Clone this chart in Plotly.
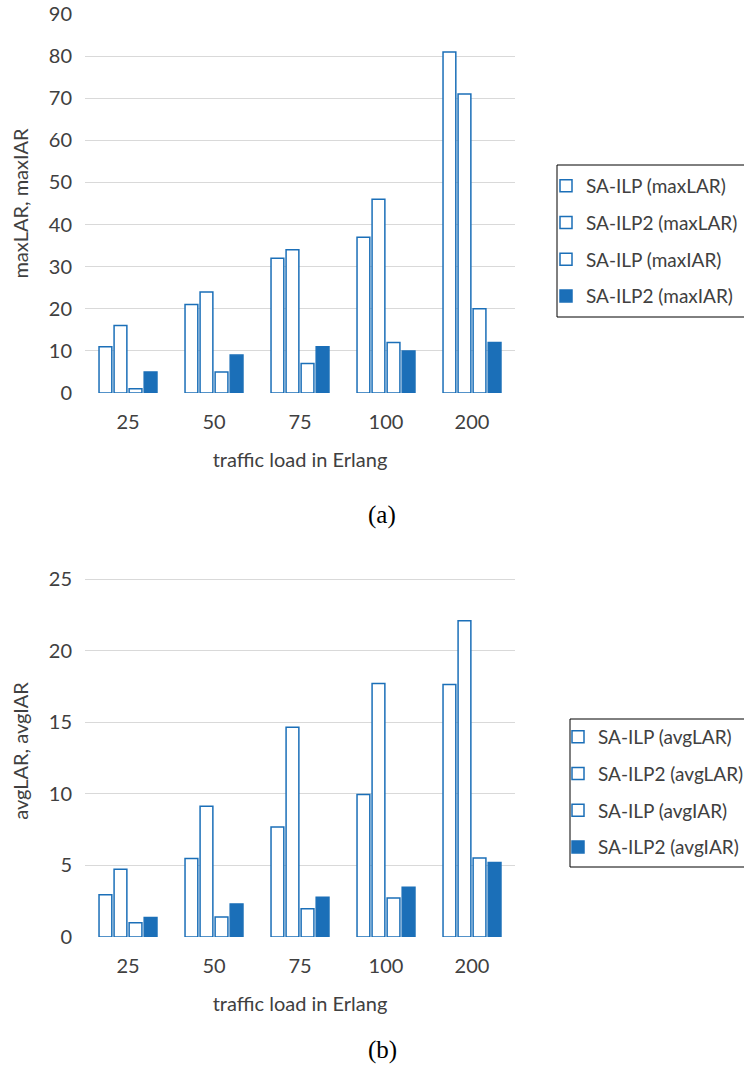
import plotly.graph_objects as go

W, H = 744, 1070

categories = ["25", "50", "75", "100", "200"]

# (a) max values
sailp_maxLAR = [11, 21, 32, 37, 81]
sailp2_maxLAR = [16, 24, 34, 46, 71]
sailp_maxIAR = [1, 5, 7, 12, 20]
sailp2_maxIAR = [5, 9, 11, 10, 12]

# (b) avg values
sailp_avgLAR = [2.95, 5.48, 7.69, 9.95, 17.64]
sailp2_avgLAR = [4.73, 9.13, 14.65, 17.71, 22.09]
sailp_avgIAR = [1.0, 1.40, 1.98, 2.73, 5.52]
sailp2_avgIAR = [1.37, 2.31, 2.77, 3.47, 5.20]

yticks_a = [0, 10, 20, 30, 40, 50, 60, 70, 80, 90]
yticks_b = [0, 5, 10, 15, 20, 25]

BLUE = "#1B6FB8"
GRID = "#D9D9D9"
FONT = "Lato"
TXT = "#404040"
FS = 20
LFS = 19


def px_x(p):
    return p / W


def px_y(p):
    return 1 - p / H


fig = go.Figure()


def add_bars(vals, name, filled, xa, ya, legend):
    fig.add_trace(go.Bar(
        x=categories, y=vals, name=name,
        marker=dict(color=BLUE if filled else "white",
                    line=dict(color=BLUE, width=1.5)),
        xaxis=xa, yaxis=ya, legend=legend, legendgroup=name + legend,
    ))


add_bars(sailp_maxLAR, "SA-ILP (maxLAR)", False, "x", "y", "legend")
add_bars(sailp2_maxLAR, "SA-ILP2 (maxLAR)", False, "x", "y", "legend")
add_bars(sailp_maxIAR, "SA-ILP (maxIAR)", False, "x", "y", "legend")
add_bars(sailp2_maxIAR, "SA-ILP2 (maxIAR)", True, "x", "y", "legend")

add_bars(sailp_avgLAR, "SA-ILP (avgLAR)", False, "x2", "y2", "legend2")
add_bars(sailp2_avgLAR, "SA-ILP2 (avgLAR)", False, "x2", "y2", "legend2")
add_bars(sailp_avgIAR, "SA-ILP (avgIAR)", False, "x2", "y2", "legend2")
add_bars(sailp2_avgIAR, "SA-ILP2 (avgIAR)", True, "x2", "y2", "legend2")

xdom = [px_x(85), px_x(515)]
axis_font = dict(family=FONT, size=FS, color=TXT)

common_x = dict(domain=xdom, showgrid=False, showline=False, zeroline=False,
                tickfont=axis_font, ticks="", fixedrange=True,
                ticklabelstandoff=15,
                title=dict(text="traffic load in Erlang", font=axis_font, standoff=20))
common_y = dict(showgrid=True, gridcolor=GRID, gridwidth=1, zeroline=False,
                showline=False, tickfont=axis_font, ticks="",
                ticklabelstandoff=12, fixedrange=True)

legend_common = dict(
    bgcolor="rgba(0,0,0,0)", borderwidth=0,
    font=dict(family=FONT, size=LFS, color=TXT),
    xanchor="left", yanchor="top", tracegroupgap=9,
    itemclick=False, itemdoubleclick=False,
)

# y-range of panel (b): plot area extends above the 25 gridline
b_top, b_grid25, b_zero = 565, 579, 937
b_max = 25 * (b_zero - b_top) / (b_zero - b_grid25)

fig.update_layout(
    width=W, height=H,
    margin=dict(l=0, r=0, t=0, b=0, autoexpand=False),
    plot_bgcolor="white", paper_bgcolor="white",
    barmode="group", bargap=0.30, bargroupgap=0.15,
    font=dict(family=FONT, color=TXT),
    xaxis=dict(anchor="y", **common_x),
    yaxis=dict(anchor="x", domain=[px_y(393), px_y(14)], range=[0, 90],
               tickvals=yticks_a, ticktext=[str(v) for v in yticks_a],
               title=dict(text="maxLAR, maxIAR", font=axis_font, standoff=14),
               **common_y),
    xaxis2=dict(anchor="y2", **common_x),
    yaxis2=dict(anchor="x2", domain=[px_y(b_zero), px_y(b_top)], range=[0, b_max],
                tickvals=yticks_b, ticktext=[str(v) for v in yticks_b],
                title=dict(text="avgLAR, avgIAR", font=axis_font, standoff=14),
                **common_y),
    legend=dict(x=px_x(546), y=px_y(167), **legend_common),
    legend2=dict(x=px_x(558), y=px_y(718), **legend_common),
    showlegend=True,
    shapes=[
        dict(type="rect", xref="paper", yref="paper",
             x0=px_x(557), x1=px_x(760), y0=px_y(165), y1=px_y(317),
             line=dict(color="black", width=1), fillcolor="white", layer="below"),
        dict(type="rect", xref="paper", yref="paper",
             x0=px_x(570), x1=px_x(760), y0=px_y(719), y1=px_y(867),
             line=dict(color="black", width=1), fillcolor="white", layer="below"),
    ],
    annotations=[
        dict(text="(a)", x=px_x(382), y=px_y(515), xref="paper", yref="paper",
             xanchor="center", yanchor="middle",
             showarrow=False, font=dict(family="Liberation Serif", size=25, color="black")),
        dict(text="(b)", x=px_x(382), y=px_y(1050), xref="paper", yref="paper",
             xanchor="center", yanchor="middle",
             showarrow=False, font=dict(family="Liberation Serif", size=25, color="black")),
    ],
)

fig.write_html("out.html")
